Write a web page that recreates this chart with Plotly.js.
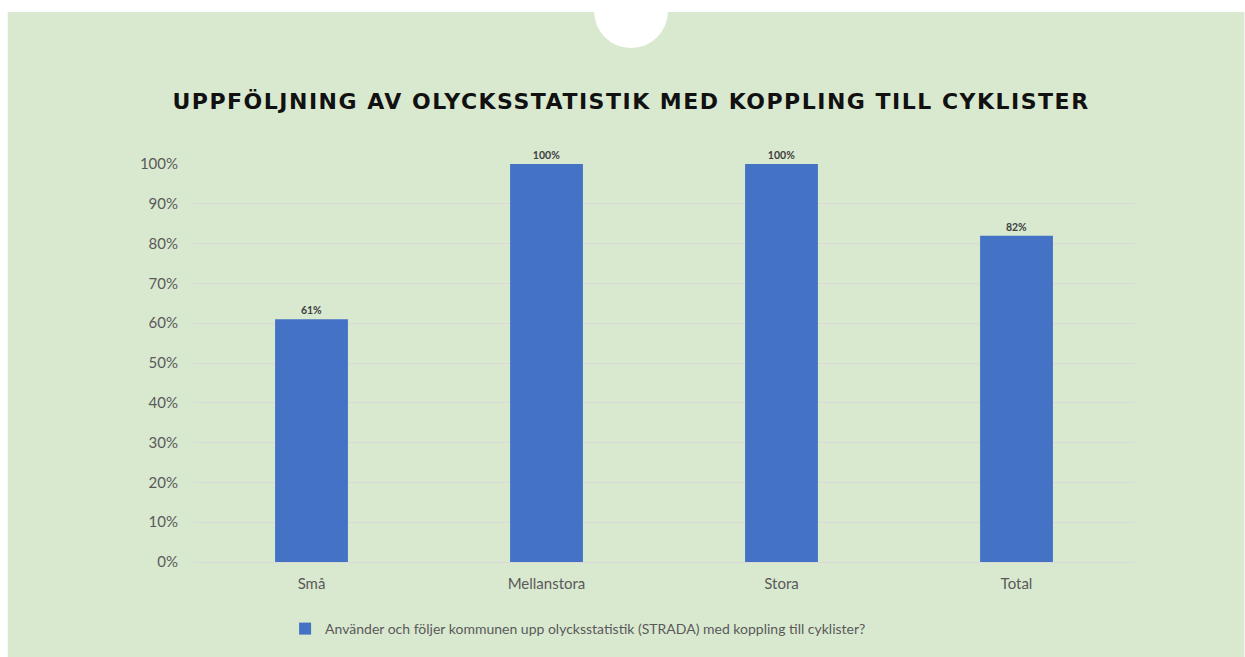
<!DOCTYPE html>
<html>
<head>
<meta charset="utf-8">
<script src="https://cdn.plot.ly/plotly-3.0.1.min.js"></script>
<style>
  html, body { margin: 0; padding: 0; background: #ffffff; }
  #chart { width: 1245px; height: 657px; }
  .gtitle { letter-spacing: 1.5px; }
</style>
</head>
<body>
<div id="chart"></div>
<script>
const categories = ["Små", "Mellanstora", "Stora", "Total"];
const values = [0.61, 1.00, 1.00, 0.82];
const valueLabels = ["61%", "100%", "100%", "82%"];
const seriesName = "Använder och följer kommunen upp olycksstatistik (STRADA) med koppling till cyklister?";
const titleText = "UPPFÖLJNING AV OLYCKSSTATISTIK MED KOPPLING TILL CYKLISTER";
const yTickVals = [0, 0.1, 0.2, 0.3, 0.4, 0.5, 0.6, 0.7, 0.8, 0.9, 1.0];
const yTickText = ["0%", "10%", "20%", "30%", "40%", "50%", "60%", "70%", "80%", "90%", "100%"];

const W = 1245, H = 657;
const L = 193.5, R = 1134.5, T = 164, B = 562;
const pw = R - L, ph = B - T;
const px = x => (x - L) / pw;
const py = y => (B - y) / ph;

const trace = {
  type: "bar",
  x: categories,
  y: values,
  name: seriesName,
  text: valueLabels,
  textposition: "outside",
  cliponaxis: false,
  textfont: { family: "Lato, 'Open Sans', sans-serif", size: 10.5, color: "#404040", weight: "bold" },
  marker: { color: "#4472c4" },
  width: 0.31,
  hoverinfo: "x+y",
  showlegend: true
};

const layout = {
  width: W, height: H,
  margin: { l: L, r: W - R, t: T, b: H - B, pad: 0 },
  paper_bgcolor: "#ffffff",
  plot_bgcolor: "rgba(0,0,0,0)",
  font: { family: "Lato, 'Open Sans', sans-serif", color: "#595959" },
  title: {
    text: titleText,
    font: { family: "'DejaVu Sans', sans-serif", size: 22, color: "#111111", weight: "bold" },
    xref: "paper", x: px(631), xanchor: "center",
    yref: "container", y: 1 - 101 / H, yanchor: "middle"
  },
  xaxis: {
    type: "category",
    tickfont: { size: 15, color: "#595959" },
    ticks: "",
    showline: true, linecolor: "#d9d9d9", linewidth: 1,
    showgrid: false, zeroline: false,
    ticklabelstandoff: 8
  },
  yaxis: {
    range: [0, 1],
    tickvals: yTickVals,
    ticktext: yTickText,
    tickfont: { size: 15, color: "#595959" },
    ticks: "",
    showgrid: true, gridcolor: "#d9d9d9", gridwidth: 1,
    zeroline: false, showline: false,
    ticklabelstandoff: 15
  },
  bargap: 0.69,
  showlegend: true,
  legend: {
    orientation: "h",
    x: px(578), xanchor: "center",
    y: py(629), yanchor: "middle",
    bgcolor: "rgba(0,0,0,0)",
    font: { size: 14, color: "#595959" },
    itemwidth: 30
  },
  shapes: [
    {
      type: "rect", layer: "below", xref: "paper", yref: "paper",
      x0: px(7), x1: px(1245), y0: py(657), y1: py(12),
      fillcolor: "#d9e9d0", line: { width: 0 }
    },
    {
      type: "circle", layer: "below", xref: "paper", yref: "paper",
      x0: px(594), x1: px(668), y0: py(48), y1: py(-26),
      fillcolor: "#ffffff", line: { width: 0 }
    }
  ]
};

Plotly.newPlot("chart", [trace], layout, { displayModeBar: false, responsive: false });
</script>
</body>
</html>
